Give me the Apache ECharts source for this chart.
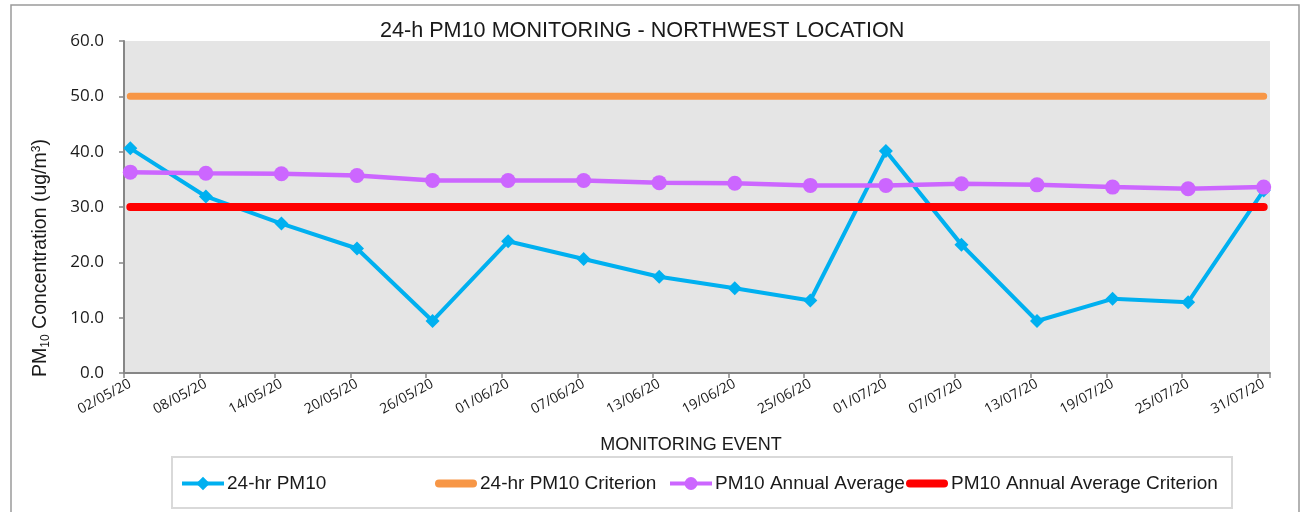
<!DOCTYPE html>
<html>
<head>
<meta charset="utf-8">
<script src="https://cdn.jsdelivr.net/npm/echarts@6/dist/echarts.min.js"></script>
<style>html,body{margin:0;padding:0;background:#fff}#c{width:1303px;height:512px}</style>
</head>
<body>
<div id="c"></div>
<script>
// ---- data ----
var eventDates = ['02/05/20','08/05/20','14/05/20','20/05/20','26/05/20','01/06/20','07/06/20','13/06/20',
                  '19/06/20','25/06/20','01/07/20','07/07/20','13/07/20','19/07/20','25/07/20','31/07/20'];
var pm10_24h = [40.6, 31.9, 27.0, 22.5, 9.4, 23.8, 20.6, 17.4, 15.3, 13.1, 40.1, 23.2, 9.4, 13.4, 12.8, 33.0];
var pm10_annualAvg = [36.3, 36.1, 36.0, 35.7, 34.8, 34.8, 34.8, 34.4, 34.3, 33.9, 33.9, 34.2, 34.0, 33.6, 33.3, 33.6];
var criterion_24h = [50, 50, 50, 50, 50, 50, 50, 50, 50, 50, 50, 50, 50, 50, 50, 50];
var criterion_annual = [30, 30, 30, 30, 30, 30, 30, 30, 30, 30, 30, 30, 30, 30, 30, 30];
var yTicks = [0, 10, 20, 30, 40, 50, 60];
var seriesNames = ['24-hr PM10', '24-hr PM10 Criterion', 'PM10 Annual Average', 'PM10 Annual Average Criterion'];

// daily date axis (Excel date axis: one band per day, first to last event)
function parseD(s){var p=s.split('/');return Date.UTC(2000+ +p[2], +p[1]-1, +p[0]);}
function fmtD(t){var d=new Date(t);function z(n){return (n<10?'0':'')+n;}return z(d.getUTCDate())+'/'+z(d.getUTCMonth()+1)+'/'+z(d.getUTCFullYear()%100);}
var dayAxis = [];
for (var t = parseD(eventDates[0]); t <= parseD(eventDates[eventDates.length-1]); t += 86400000) dayAxis.push(fmtD(t));
function pairs(vals){return eventDates.map(function(d,i){return [d, vals[i]];});}

var TXT = '#1a1a1a', AX = '#868686';
var FONT_A = 'Liberation Sans';
var FONT_B = 'Open Sans';
var barIcon = 'path://M4,0H38A4,4,0,0,1,38,8H4A4,4,0,0,1,4,0Z';

var chart = echarts.init(document.getElementById('c'), null, {renderer:'canvas'});
var legendCommon = {orient:'horizontal', top:474, padding:0, itemWidth:42, itemHeight:14, itemGap:0,
  textStyle:{fontFamily:FONT_A, fontSize:19, color:TXT, padding:[0,0,0,-2]}};
chart.setOption({
  animation:false,
  title:{text:'24-h PM10 MONITORING - NORTHWEST LOCATION', left:375, top:15,
    textStyle:{fontFamily:FONT_A, fontSize:21.6, fontWeight:'normal', color:TXT}},
  grid:{left:124, right:33, top:41, bottom:139, show:true, backgroundColor:'#e5e5e5', borderWidth:0},
  legend:[
    Object.assign({}, legendCommon, {left:180, data:[seriesNames[0]], itemHeight:17, lineStyle:{width:4}}),
    Object.assign({}, legendCommon, {left:435, data:[{name:seriesNames[1], icon:barIcon}], itemHeight:8}),
    Object.assign({}, legendCommon, {left:668, data:[seriesNames[2]], itemHeight:16, lineStyle:{width:4}}),
    Object.assign({}, legendCommon, {left:906, data:[{name:seriesNames[3], icon:barIcon}], itemHeight:8})
  ],
  xAxis:{type:'category', data:dayAxis, boundaryGap:true,
    name:'MONITORING EVENT', nameLocation:'middle', nameGap:63,
    nameTextStyle:{fontFamily:FONT_A, fontSize:18, color:TXT, padding:[0,12,0,0]},
    axisLine:{lineStyle:{color:AX, width:2}},
    axisTick:{show:true, interval:5, length:5, lineStyle:{color:AX, width:1.5}},
    axisLabel:{interval:5, rotate:28, margin:10, fontFamily:FONT_B, fontSize:14, color:TXT},
    splitLine:{show:false}},
  yAxis:{type:'value', min:yTicks[0], max:yTicks[yTicks.length-1], interval:10,
    axisLine:{show:true, lineStyle:{color:AX, width:2}},
    axisTick:{show:true, length:5, lineStyle:{color:AX, width:1.5}},
    axisLabel:{margin:20, fontFamily:FONT_B, fontSize:17, color:TXT, formatter:function(v){return v.toFixed(1);}},
    splitLine:{show:false}},
  graphic:[
    {type:'rect', shape:{x:11, y:5, width:1288, height:520}, style:{fill:'none', stroke:'#9a9a9a', lineWidth:1.5}, silent:true},
    {type:'rect', shape:{x:172, y:457, width:1060, height:51}, style:{fill:'none', stroke:'#d9d9d9', lineWidth:2}, silent:true},
    {type:'text', x:41, y:258, rotation:Math.PI/2,
      style:{text:'PM{sub|10} Concentration (ug/m{sup|3})', fill:TXT, font:'19.5px "Liberation Sans"',
        align:'center', verticalAlign:'middle',
        rich:{sub:{fontSize:12, fontFamily:FONT_A, fill:TXT, padding:[9,0,0,0]},
              sup:{fontSize:12, fontFamily:FONT_A, fill:TXT, padding:[0,0,9,0]}}}}
  ],
  series:[
    {name:seriesNames[0], type:'line', data:pairs(pm10_24h), symbol:'diamond', symbolSize:14,
      lineStyle:{color:'#00b0f0', width:4}, itemStyle:{color:'#00b0f0'}},
    {name:seriesNames[1], type:'line', data:pairs(criterion_24h), symbol:'none', showSymbol:false,
      lineStyle:{color:'#f79646', width:7, cap:'round'}, itemStyle:{color:'#f79646'}},
    {name:seriesNames[2], type:'line', data:pairs(pm10_annualAvg), symbol:'circle', symbolSize:15,
      lineStyle:{color:'#cc66ff', width:4.5}, itemStyle:{color:'#cc66ff'}},
    {name:seriesNames[3], type:'line', data:pairs(criterion_annual), symbol:'none', showSymbol:false,
      lineStyle:{color:'#ff0000', width:8, cap:'round'}, itemStyle:{color:'#ff0000'}}
  ]
});
</script>
</body>
</html>
